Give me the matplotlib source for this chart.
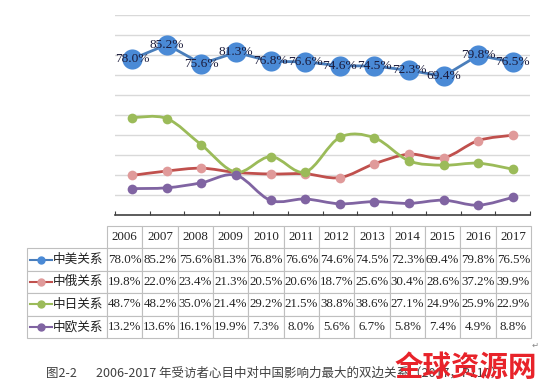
import matplotlib
matplotlib.use('Agg')
import matplotlib.pyplot as plt
from matplotlib.path import Path
from matplotlib.patches import PathPatch
import numpy as np

plt.rcParams['font.family'] = ['Noto Sans CJK SC', 'DejaVu Sans']

years = ['2006', '2007', '2008', '2009', '2010', '2011', '2012', '2013', '2014', '2015', '2016', '2017']
names = ['中美关系', '中俄关系', '中日关系', '中欧关系']
us = [78.0, 85.2, 75.6, 81.3, 76.8, 76.6, 74.6, 74.5, 72.3, 69.4, 79.8, 76.5]
ru = [19.8, 22.0, 23.4, 21.3, 20.5, 20.6, 18.7, 25.6, 30.4, 28.6, 37.2, 39.9]
jp = [48.7, 48.2, 35.0, 21.4, 29.2, 21.5, 38.8, 38.6, 27.1, 24.9, 25.9, 22.9]
eu = [13.2, 13.6, 16.1, 19.9, 7.3, 8.0, 5.6, 6.7, 5.8, 7.4, 4.9, 8.8]
series = [us, ru, jp, eu]

line_colors = ['#4a7ebb', '#c0504d', '#9bbb59', '#8064a2']
marker_colors = ['#4a8ad6', '#e09a9a', '#9bbb59', '#8064a2']

W, H = 548, 391
fig = plt.figure(figsize=(W / 100, H / 100), dpi=100)
ax = fig.add_axes([115 / W, (H - 215) / H, 415 / W, 200 / H])


def smooth_path(x, y):
    # bezier curve through the points (like Excel's smoothed line)
    pts = np.column_stack([x, y]).astype(float)
    n = len(pts)
    verts = [pts[0]]
    codes = [Path.MOVETO]
    for i in range(n - 1):
        p0 = pts[max(i - 1, 0)]
        p1 = pts[i]
        p2 = pts[i + 1]
        p3 = pts[min(i + 2, n - 1)]
        c1 = p1 + (p2 - p0) / 6
        c2 = p2 - (p3 - p1) / 6
        verts += [c1, c2, p2]
        codes += [Path.CURVE4] * 3
    return Path(verts, codes)


x = np.arange(len(years))

# US line: straight segments, big markers with labels
ax.plot(x, us, color=line_colors[0], lw=2, zorder=3)
ax.plot(x, us, 'o', color=marker_colors[0], ms=14.5, zorder=4, mec='none')
for xi, v in zip(x, us):
    ax.text(xi, v, f'{v:.1f}%', ha='center', va='center', fontsize=9.6,
            family='Liberation Serif', color='#1a1a3a', zorder=5)

for s, lc, mc in zip(series[1:], line_colors[1:], marker_colors[1:]):
    ax.add_patch(PathPatch(smooth_path(x, s), fc='none', ec=lc, lw=2, zorder=3))
    ax.plot(x, s, 'o', color=mc, ms=7, mec='none', zorder=4)

ax.set_xlim(-0.5, len(years) - 0.5)
ax.set_ylim(0, 100)
ax.set_yticks(np.arange(10, 101, 10))
ax.yaxis.grid(True, color='#d9d9d9', lw=1)
ax.set_axisbelow(True)
ax.tick_params(axis='y', left=False, labelleft=False)
ax.set_xticks(np.arange(-0.5, len(years), 1))
ax.tick_params(axis='x', direction='in', length=3, color='#404040', labelbottom=False)
for sp in ['left', 'right', 'top']:
    ax.spines[sp].set_visible(False)
ax.spines['bottom'].set_color('#404040')
ax.spines['bottom'].set_linewidth(1.2)

# data table under the chart
tax = fig.add_axes([27 / W, (H - 338) / H, 504 / W, 112 / H])
tax.axis('off')
cell_text = [[''] + years]
for s in series:
    cell_text.append([''] + [f'{v:.1f}%' for v in s])
label_w = 80 / 504
col_w = (1 - label_w) / len(years)
tbl = tax.table(cellText=cell_text, colWidths=[label_w] + [col_w] * len(years),
                cellLoc='center', bbox=[0, 0, 1, 1])
tbl.auto_set_font_size(False)
for (r, c), cell in tbl.get_celld().items():
    cell.set_edgecolor('#bfbfbf')
    cell.set_linewidth(0.8)
    cell.PAD = 0.02
    t = cell.get_text()
    t.set_fontsize(9.3)
    t.set_fontfamily('Liberation Serif')
    t.set_color('#222222')
tbl[0, 0].visible_edges = ''

for i, (name, lc, mc) in enumerate(zip(names, line_colors, marker_colors)):
    yc = 1 - (i + 1.5) / 5
    tax.plot([3 / 504, 25 / 504], [yc, yc], color=lc, lw=1.5, transform=tax.transAxes, clip_on=False)
    tax.plot([14 / 504], [yc], 'o', color=mc, ms=5, transform=tax.transAxes, clip_on=False)
    tax.text(26 / 504, yc, name, ha='left', va='center', fontsize=9.1,
             color='#222222', transform=tax.transAxes)

# caption and watermark
fig.text(46 / W, 1 - 373 / H, '图2-2', fontsize=9, color='#404040', va='center')
fig.text(96 / W, 1 - 373 / H, '2006-2017 年受访者心目中对中国影响力最大的双边关系（2017，P110）',
         fontsize=9, color='#404040', va='center')
fig.text(532 / W, 1 - 345 / H, '↵', fontsize=6, color='#888888', va='center', family='DejaVu Sans')
fig.text(466 / W, 1 - 368 / H, '全球资源网', fontsize=20.5, color='#e8232a', fontweight='bold',
         ha='center', va='center', zorder=10)

fig.savefig('out.png', dpi=100)
